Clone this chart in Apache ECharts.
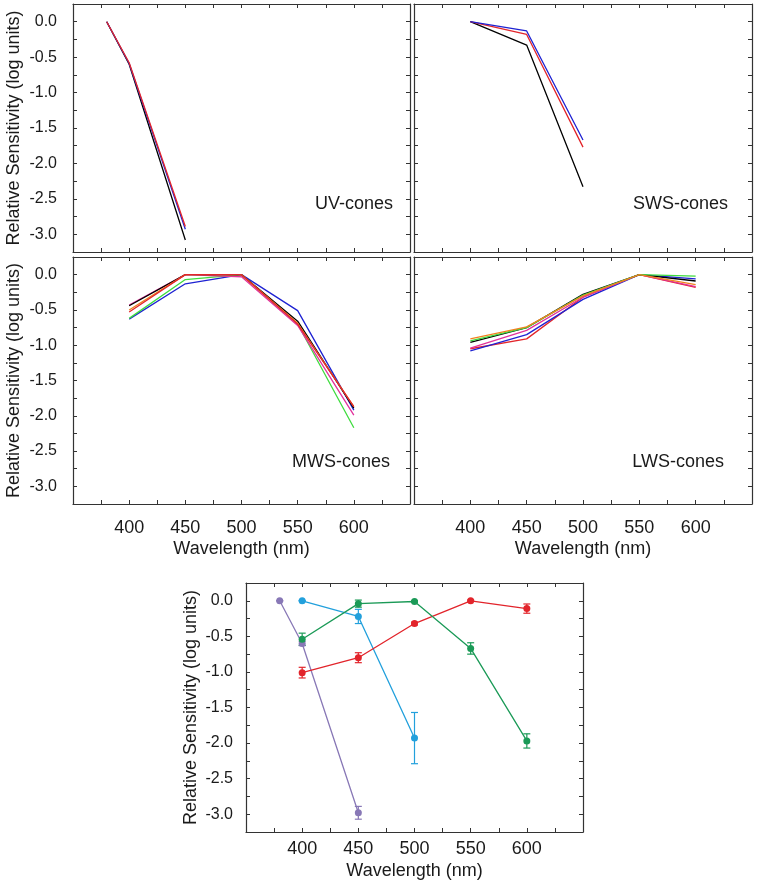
<!DOCTYPE html>
<html>
<head>
<meta charset="utf-8">
<script src="https://cdn.jsdelivr.net/npm/echarts@6/dist/echarts.min.js"></script>
<style>
html,body{margin:0;padding:0;background:#fff;}
#chart{width:757px;height:884px;}
</style>
</head>
<body>
<div id="chart"></div>
<script>
// ---- Data ----
const uvX = [380, 400, 450];
const uvBlack = [0, -0.60, -3.08];
const uvBlue = [0, -0.59, -2.93];
const uvRed = [0, -0.58, -2.89];

const swsX = [400, 450, 500];
const swsBlack = [0, -0.33, -2.33];
const swsBlue = [0, -0.13, -1.67];
const swsRed = [0, -0.18, -1.77];

const mwsX = [400, 450, 500, 550, 600];
const mwsBlack = [-0.44, 0, 0, -0.66, -1.89];
const mwsBlue = [-0.63, -0.13, 0, -0.51, -1.92];
const mwsGreen = [-0.62, -0.07, 0, -0.70, -2.17];
const mwsOrange = [-0.50, 0, 0, -0.69, -1.87];
const mwsRed = [-0.53, 0, 0, -0.70, -1.87];
const mwsMagenta = [-0.43, 0, -0.03, -0.72, -1.99];

const lwsX = [400, 450, 500, 550, 600];
const lwsBlack = [-0.96, -0.75, -0.28, 0, -0.09];
const lwsGreen = [-0.94, -0.75, -0.29, 0, -0.02];
const lwsOrange = [-0.91, -0.74, -0.30, 0, -0.14];
const lwsRed = [-1.05, -0.91, -0.32, 0, -0.18];
const lwsMagenta = [-1.04, -0.79, -0.32, 0, -0.17];
const lwsBlue = [-1.08, -0.85, -0.35, 0, -0.06];

// mean sensitivities with error (bottom chart)
const meanUvX = [380, 400, 450];
const meanUv = [0, -0.60, -2.98];
const errUv = [0, 0.03, 0.09];
const meanSwsX = [400, 450, 500];
const meanSws = [0, -0.22, -1.93];
const errSws = [0, 0.10, 0.36];
const meanMwsX = [400, 450, 500, 550, 600];
const meanMws = [-0.54, -0.04, -0.01, -0.67, -1.97];
const errMws = [0.085, 0.05, 0.01, 0.08, 0.10];
const meanLwsX = [400, 450, 500, 550, 600];
const meanLws = [-1.01, -0.80, -0.32, 0, -0.11];
const errLws = [0.075, 0.07, 0.02, 0.01, 0.065];

const panelLabels = ['UV-cones', 'SWS-cones', 'MWS-cones', 'LWS-cones'];
const xTitle = 'Wavelength (nm)';
const yTitle = 'Relative Sensitivity (log units)';

// ---- Styling ----
const FONT = 'Liberation Sans, Arial, sans-serif';
const TXT = '#1a1a1a';
const AX = '#333';
const C = {black:'#000000', blue:'#1e22d2', red:'#e3262b', green:'#3fdc3f', orange:'#f0821e', magenta:'#e2319b'};
const M = {uv:'#8878b6', sws:'#22a0dc', mws:'#1b9a57', lws:'#e2242b'};

const grids = [
  {left:73, top:4, width:337, height:248},
  {left:414, top:4, width:338, height:248},
  {left:73, top:257, width:337, height:247},
  {left:414, top:257, width:338, height:247},
  {left:246, top:583, width:337, height:249}
];

function xFmt(v){ return (v % 50 === 0 && v >= 400 && v <= 600) ? String(v) : ''; }
function yFmt(v){ const d = v*2; return (Math.abs(d - Math.round(d)) < 1e-9 && v <= 0 && v >= -3) ? (Math.abs(v) < 1e-9 ? '0.0' : v.toFixed(1)) : ''; }

const xAxes = [], yAxes = [];
function addAxes(g, opts){
  const base = {
    type:'value', gridIndex:g,
    axisLine:{show:true, onZero:false, lineStyle:{color:AX, width:1.2}},
    axisTick:{show:true, inside:true, length:4, lineStyle:{color:AX, width:1}},
    splitLine:{show:false}
  };
  xAxes.push(Object.assign({}, base, {
    position:'bottom', min:350, max:650, interval:25,
    axisLabel:{show:opts.xLabels, formatter:xFmt, fontSize:18, color:TXT, fontFamily:FONT, margin:opts.xMargin},
    name: opts.xLabels ? xTitle : '', nameLocation:'middle', nameGap:opts.xNameGap,
    nameTextStyle:{fontSize:18, color:TXT, fontFamily:FONT}
  }));
  xAxes.push(Object.assign({}, base, {
    position:'top', min:350, max:650, interval:25, axisLabel:{show:false}
  }));
  yAxes.push(Object.assign({}, base, {
    position:'left', min:-3.25, max:0.25, interval:0.25,
    axisLabel:{show:opts.yLabels, formatter:yFmt, fontSize:16, color:TXT, fontFamily:FONT, margin:opts.yMargin},
    name: opts.yLabels ? yTitle : '', nameLocation:'middle', nameGap:opts.yNameGap, nameRotate:90,
    nameTextStyle:{fontSize:18, color:TXT, fontFamily:FONT}
  }));
  yAxes.push(Object.assign({}, base, {
    position:'right', min:-3.25, max:0.25, interval:0.25, axisLabel:{show:false}
  }));
}
addAxes(0, {xLabels:false, yLabels:true, yMargin:16, yNameGap:50});
addAxes(1, {xLabels:false, yLabels:false});
addAxes(2, {xLabels:true, yLabels:true, xMargin:15, xNameGap:36, yMargin:16, yNameGap:50});
addAxes(3, {xLabels:true, yLabels:false, xMargin:15, xNameGap:36});
addAxes(4, {xLabels:true, yLabels:true, xMargin:8, xNameGap:30, yMargin:13, yNameGap:46});

const series = [];
function pairs(xs, ys){ return xs.map((x,i)=>[x, ys[i]]); }
function addLine(g, xs, ys, color){
  series.push({type:'line', xAxisIndex:2*g, yAxisIndex:2*g, data:pairs(xs, ys),
    showSymbol:false, symbol:'none', lineStyle:{color, width:1.3}, itemStyle:{color}, animation:false, silent:true});
}
addLine(0, uvX, uvBlack, C.black);
addLine(0, uvX, uvBlue, C.blue);
addLine(0, uvX, uvRed, C.red);
addLine(1, swsX, swsBlack, C.black);
addLine(1, swsX, swsRed, C.red);
addLine(1, swsX, swsBlue, C.blue);
addLine(2, mwsX, mwsBlue, C.blue);
addLine(2, mwsX, mwsGreen, C.green);
addLine(2, mwsX, mwsMagenta, C.magenta);
addLine(2, mwsX, mwsBlack, C.black);
addLine(2, mwsX, mwsOrange, C.orange);
addLine(2, mwsX, mwsRed, C.red);
addLine(3, lwsX, lwsRed, C.red);
addLine(3, lwsX, lwsBlue, C.blue);
addLine(3, lwsX, lwsMagenta, C.magenta);
addLine(3, lwsX, lwsBlack, C.black);
addLine(3, lwsX, lwsGreen, C.green);
addLine(3, lwsX, lwsOrange, C.orange);

function addMean(xs, ys, es, color){
  series.push({type:'custom', xAxisIndex:8, yAxisIndex:8, animation:false, silent:true,
    data: xs.map((x,i)=>[x, ys[i]-es[i], ys[i]+es[i]]),
    renderItem:function(params, api){
      const x = api.value(0);
      const lo = api.coord([x, api.value(1)]);
      const hi = api.coord([x, api.value(2)]);
      const w = 3.5;
      const st = {stroke:color, lineWidth:1.2};
      return {type:'group', children:[
        {type:'line', shape:{x1:lo[0], y1:lo[1], x2:hi[0], y2:hi[1]}, style:st},
        {type:'line', shape:{x1:lo[0]-w, y1:lo[1], x2:lo[0]+w, y2:lo[1]}, style:st},
        {type:'line', shape:{x1:hi[0]-w, y1:hi[1], x2:hi[0]+w, y2:hi[1]}, style:st}
      ]};
    }
  });
  series.push({type:'line', xAxisIndex:8, yAxisIndex:8, data:pairs(xs, ys),
    symbol:'circle', symbolSize:7, showSymbol:true, lineStyle:{color, width:1.3},
    itemStyle:{color}, animation:false, silent:true});
}
addMean(meanUvX, meanUv, errUv, M.uv);
addMean(meanSwsX, meanSws, errSws, M.sws);
addMean(meanLwsX, meanLws, errLws, M.lws);
addMean(meanMwsX, meanMws, errMws, M.mws);

const labelPos = [[393, 204], [728, 204], [390, 462], [724, 462]];
const graphic = panelLabels.map((t, i) => ({
  type:'text', x:labelPos[i][0], y:labelPos[i][1], silent:true,
  style:{text:t, textAlign:'right', textVerticalAlign:'middle', font:'18px ' + FONT, fill:TXT}
}));

const chart = echarts.init(document.getElementById('chart'), null, {renderer:'canvas'});
chart.setOption({
  animation:false,
  backgroundColor:'#ffffff',
  grid:grids,
  xAxis:xAxes,
  yAxis:yAxes,
  series:series,
  graphic:graphic
});
</script>
</body>
</html>
